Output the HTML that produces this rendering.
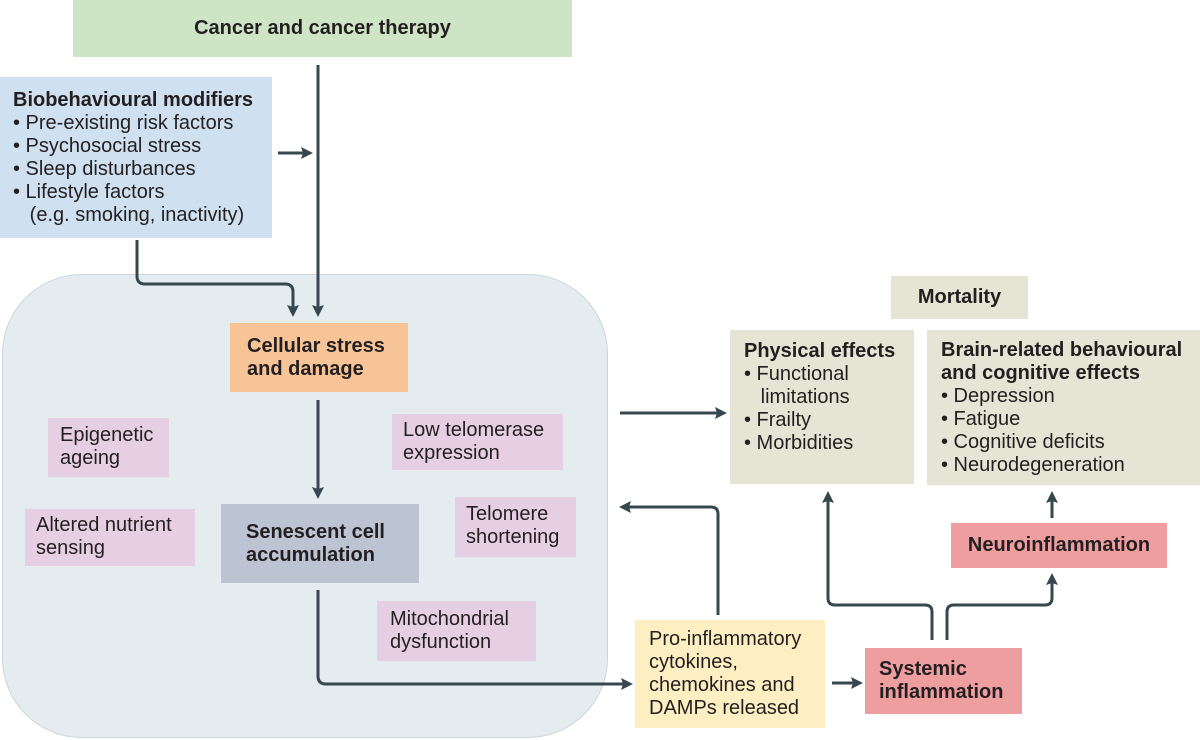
<!DOCTYPE html>
<html><head><meta charset="utf-8"><style>
body{margin:0;width:1200px;height:740px;background:#fff;position:relative;overflow:hidden;font-family:"Liberation Sans",sans-serif;color:#231f20}
.b{position:absolute;box-sizing:border-box;font-size:20px;line-height:23px;white-space:nowrap}
.bold{font-weight:bold}
svg{position:absolute;left:0;top:0}
</style></head><body>
<div class="b" style="left:2px;top:274px;width:606px;height:464px;background:#e5ecef;border:1px solid #c9d5dc;border-radius:80px"></div>
<div class="b bold" style="left:73px;top:0;width:499px;height:57px;background:#cde5c4;text-align:center;line-height:57px;font-size:20px">Cancer and cancer therapy</div>
<div class="b" style="left:0;top:77px;width:272px;height:161px;background:#cfe0f0;padding:12px 0 0 13px"><b>Biobehavioural modifiers</b><br>• Pre-existing risk factors<br>• Psychosocial stress<br>• Sleep disturbances<br>• Lifestyle factors<br>&nbsp;&nbsp;&nbsp;(e.g. smoking, inactivity)</div>
<div class="b bold" style="left:230px;top:323px;width:178px;height:69px;background:#f7c497;padding:12px 0 0 17px">Cellular stress<br>and damage</div>
<div class="b bold" style="left:221px;top:504px;width:198px;height:79px;background:#bcc3d2;padding:17px 0 0 25px">Senescent cell<br>accumulation</div>
<div class="b" style="left:48px;top:418px;width:121px;height:59px;background:#e6cfe3;padding:6px 0 0 12px">Epigenetic<br>ageing</div>
<div class="b" style="left:25px;top:509px;width:170px;height:57px;background:#e6cfe3;padding:5px 0 0 11px">Altered nutrient<br>sensing</div>
<div class="b" style="left:392px;top:414px;width:171px;height:56px;background:#e6cfe3;padding:5px 0 0 11px">Low telomerase<br>expression</div>
<div class="b" style="left:455px;top:497px;width:121px;height:60px;background:#e6cfe3;padding:6px 0 0 11px">Telomere<br>shortening</div>
<div class="b" style="left:377px;top:601px;width:159px;height:60px;background:#e6cfe3;padding:7px 0 0 13px">Mitochondrial<br>dysfunction</div>
<div class="b" style="left:635px;top:620px;width:190px;height:108px;background:#fdefc2;padding:8px 0 0 14px">Pro-inflammatory<br>cytokines,<br>chemokines and<br>DAMPs released</div>
<div class="b bold" style="left:865px;top:648px;width:157px;height:66px;background:#ef9ea0;padding:10px 0 0 14px">Systemic<br>inflammation</div>
<div class="b bold" style="left:951px;top:523px;width:216px;height:45px;background:#ef9ea0;text-align:center;line-height:45px">Neuroinflammation</div>
<div class="b bold" style="left:891px;top:276px;width:137px;height:43px;background:#e6e4d4;text-align:center;line-height:43px">Mortality</div>
<div class="b" style="left:730px;top:330px;width:184px;height:154px;background:#e6e4d4;padding:10px 0 0 14px"><b>Physical effects</b><br>• Functional<br>&nbsp;&nbsp;&nbsp;limitations<br>• Frailty<br>• Morbidities</div>
<div class="b" style="left:927px;top:330px;width:273px;height:155px;background:#e6e4d4;padding:9px 0 0 14px;overflow:hidden"><b>Brain-related behavioural<br>and cognitive effects</b><br>• Depression<br>• Fatigue<br>• Cognitive deficits<br>• Neurodegeneration</div>
<svg width="1200" height="740" viewBox="0 0 1200 740">
<defs><marker id="a" markerWidth="12" markerHeight="12" refX="9" refY="6" orient="auto" markerUnits="userSpaceOnUse"><path d="M0,0 L12,6 L0,12 L2,6 Z" fill="#37474f"/></marker></defs>
<g fill="none" stroke="#37474f" stroke-width="3" marker-end="url(#a)">
<path d="M318,65 V314"/>
<path d="M137,240 V276 Q137,284 145,284 H285 Q293,284 293,292 V314"/>
<path d="M278,153 H310"/>
<path d="M318,400 V496"/>
<path d="M318,590 V676 Q318,684 326,684 H630"/>
<path d="M620,413 H724"/>
<path d="M718,615 V514 Q718,507 711,507 H622"/>
<path d="M832,683 H860"/>
<path d="M932,640 V612 Q932,605 925,605 H835 Q828,605 828,598 V494"/>
<path d="M947,640 V612 Q947,605 954,605 H1045 Q1052,605 1052,598 V576"/>
<path d="M1052,518 V494"/>
</g></svg>
</body></html>
